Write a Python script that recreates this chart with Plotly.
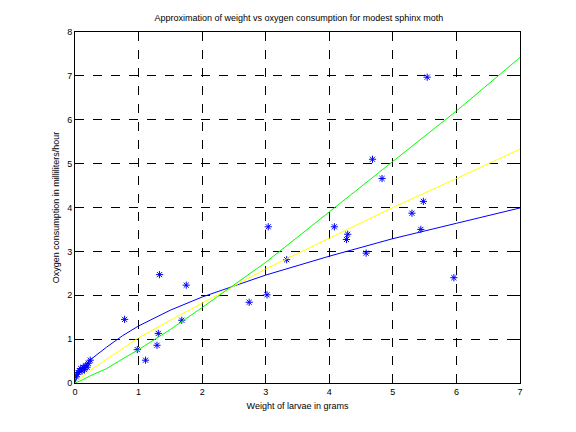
import plotly.graph_objects as go

# measured larvae weight (g) and oxygen consumption (ml/hour)
weight = [0.02, 0.03, 0.05, 0.07, 0.09, 0.11, 0.13, 0.15, 0.17, 0.19, 0.21, 0.24,
          0.78, 0.98, 1.11, 1.29, 1.31, 1.33, 1.68, 1.75, 2.74, 3.02, 3.04, 3.33,
          4.08, 4.29, 4.27, 4.58, 4.68, 4.83, 5.30, 5.44, 5.48, 5.54, 5.96]
oxygen = [0.14, 0.20, 0.24, 0.28, 0.33, 0.27, 0.36, 0.31, 0.40, 0.36, 0.45, 0.52,
          1.45, 0.76, 0.52, 0.86, 1.13, 2.47, 1.43, 2.23, 1.84, 2.01, 3.56, 2.81,
          3.56, 3.39, 3.27, 2.96, 5.10, 4.66, 3.87, 3.50, 4.14, 6.97, 2.40]

# fitted curves
fit_x = [0, 0.02, 0.1, 0.25, 0.5, 0.75, 1, 1.5, 2, 3, 4, 5, 6, 7]
fit_blue = [0, 0.12, 0.30, 0.54, 0.82, 1.08, 1.30, 1.66, 1.96, 2.46, 2.89, 3.29, 3.64, 3.99]
fit_yellow = [0, 0.03, 0.13, 0.30, 0.55, 0.80, 1.03, 1.43, 1.82, 2.60, 3.30, 4.00, 4.66, 5.33]
fit_green = [0, 0.01, 0.06, 0.17, 0.33, 0.55, 0.76, 1.22, 1.72, 2.75, 3.90, 5.04, 6.20, 7.42]

fig = go.Figure()
fig.add_trace(go.Scatter(x=weight, y=oxygen, mode='markers',
                         marker=dict(symbol='asterisk-open', size=6, color='#0000FF',
                                     line=dict(width=1, color='#0000FF'))))
fig.add_trace(go.Scatter(x=fit_x, y=fit_blue, mode='lines', line=dict(color='#0000FF', width=1)))
fig.add_trace(go.Scatter(x=fit_x, y=fit_yellow, mode='lines', line=dict(color='#FFFF00', width=1)))
fig.add_trace(go.Scatter(x=fit_x, y=fit_green, mode='lines', line=dict(color='#00FF00', width=1)))

axis_style = dict(showline=True, linecolor='black', linewidth=1, mirror='ticks',
                  ticks='inside', ticklen=4, tickcolor='black',
                  showgrid=True, gridcolor='black', griddash='dash', gridwidth=1,
                  zeroline=False, dtick=1,
                  tickfont=dict(family='Liberation Sans, Arial', size=9, color='black'))

fig.update_xaxes(range=[0, 7], **axis_style,
                 title=dict(text='Weight of larvae in grams', standoff=6,
                            font=dict(family='Liberation Sans, Arial', size=9, color='black')))
fig.update_yaxes(range=[0, 8], **axis_style,
                 title=dict(text='Oxygen consumption in milliliters/hour', standoff=6,
                            font=dict(family='Liberation Sans, Arial', size=9, color='black')))

# page body adds ~8px, so margins are trimmed to land the box where the original is
fig.update_layout(
    width=576, height=432,
    margin=dict(l=67, r=64, t=24, b=57),
    paper_bgcolor='white', plot_bgcolor='white',
    showlegend=False,
    title=dict(text='Approximation of weight vs oxygen consumption for modest sphinx moth',
               x=0.505, xanchor='center', y=0.977, yanchor='middle',
               font=dict(family='Liberation Sans, Arial', size=9, color='black')),
)

fig.write_html("out.html")
